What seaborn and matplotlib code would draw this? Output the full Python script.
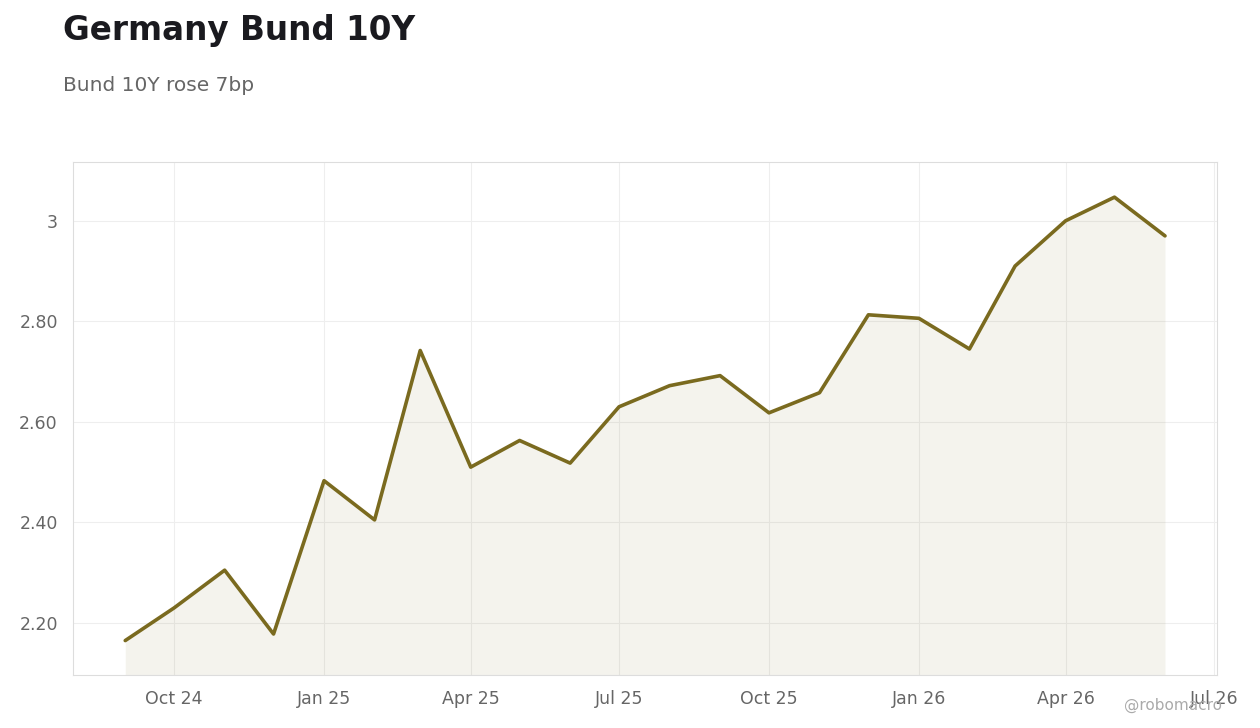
import matplotlib
matplotlib.use("Agg")
import matplotlib.pyplot as plt
import matplotlib.dates as mdates
import seaborn as sns
import pandas as pd

dates = pd.date_range("2024-09-01", "2026-06-01", freq="MS")
values = [2.165, 2.23, 2.305, 2.178, 2.483, 2.405, 2.742, 2.51, 2.563, 2.518,
          2.63, 2.672, 2.692, 2.618, 2.658, 2.813, 2.806, 2.745, 2.91, 3.0, 3.047, 2.97]
yticks = [2.2, 2.4, 2.6, 2.8, 3.0]
ytick_labels = ["2.20", "2.40", "2.60", "2.80", "3"]
xticks = pd.to_datetime(["2024-10-01", "2025-01-01", "2025-04-01", "2025-07-01",
                         "2025-10-01", "2026-01-01", "2026-04-01", "2026-07-01"])
xtick_labels = ["Oct 24", "Jan 25", "Apr 25", "Jul 25", "Oct 25", "Jan 26", "Apr 26", "Jul 26"]

df = pd.DataFrame({"date": dates, "value": values})
sns.set_style("white")
plt.rcParams['font.family'] = ['DejaVu Sans']

fig = plt.figure(figsize=(12.6, 7.28), dpi=100)
ax = fig.add_axes([0.058, 0.0728, 0.908, 0.7047])
color = "#7a6a1f"
sns.lineplot(data=df, x="date", y="value", ax=ax, color=color, linewidth=2.6)
ax.fill_between(df["date"], df["value"], 2.0965, color=color, alpha=0.08, linewidth=0)
ax.set_xlim(pd.Timestamp("2024-07-31"), pd.Timestamp("2026-07-03"))
ax.set_ylim(2.0965, 3.117)
ax.set_yticks(yticks)
ax.set_yticklabels(ytick_labels)
ax.set_xticks(xticks)
ax.set_xticklabels(xtick_labels)
ax.set_xlabel("")
ax.set_ylabel("")
ax.grid(True, color="#eeeeee", linewidth=0.8)
ax.tick_params(colors="#666666", labelsize=12.5, length=4, color="#cccccc")
ax.tick_params(axis="x", pad=7)
ax.tick_params(axis="y", pad=7)
for s in ax.spines.values():
    s.set_color("#dddddd")
    s.set_linewidth(0.8)

fig.text(0.05, 0.958, "Germany Bund 10Y", fontsize=23.5, fontweight="bold", color="#1a1a1f", va="center")
fig.text(0.05, 0.883, "Bund 10Y rose 7bp", fontsize=14.5, color="#666666", va="center")
fig.text(0.97, 0.031, "@robomacro", fontsize=11, color="#aaaaaa", ha="right", va="center")
fig.savefig("out.png", dpi=100)
